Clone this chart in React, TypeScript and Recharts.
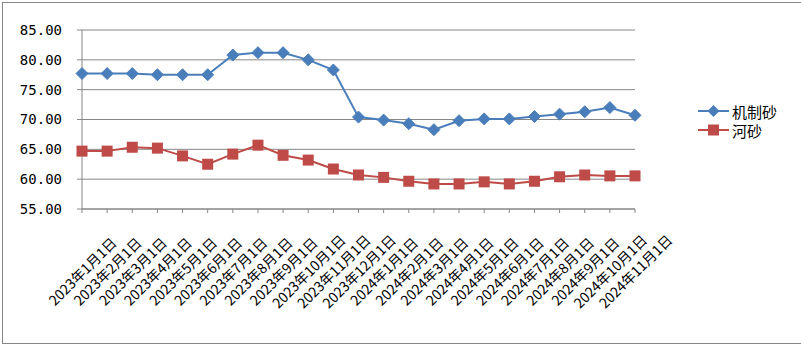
import React from 'react';
import { LineChart, Line, XAxis, YAxis, CartesianGrid } from 'recharts';

const categories = [
  '2023年1月1日', '2023年2月1日', '2023年3月1日', '2023年4月1日', '2023年5月1日', '2023年6月1日',
  '2023年7月1日', '2023年8月1日', '2023年9月1日', '2023年10月1日', '2023年11月1日', '2023年12月1日',
  '2024年1月1日', '2024年2月1日', '2024年3月1日', '2024年4月1日', '2024年5月1日', '2024年6月1日',
  '2024年7月1日', '2024年8月1日', '2024年9月1日', '2024年10月1日', '2024年11月1日',
];
const machineSand = [77.7, 77.7, 77.7, 77.5, 77.5, 77.5, 80.8, 81.2, 81.2, 80.0, 78.3, 70.4, 69.9, 69.3, 68.3, 69.8, 70.1, 70.1, 70.5, 70.9, 71.3, 72.0, 70.7];
const riverSand = [64.7, 64.7, 65.35, 65.2, 63.9, 62.5, 64.2, 65.7, 64.0, 63.2, 61.7, 60.7, 60.3, 59.65, 59.2, 59.2, 59.55, 59.2, 59.65, 60.4, 60.7, 60.55, 60.55];
const yTicks = [55, 60, 65, 70, 75, 80, 85];
const seriesNames = ['机制砂', '河砂'];

const data = categories.map((c, i) => ({ name: c, a: machineSand[i], b: riverSand[i] }));

const BLUE = '#4A7EBB';
const RED = '#BE4B48';
const GRAY = '#868686';

const Diamond = (props: any) => {
  const { cx, cy } = props;
  if (cx == null || cy == null) return null;
  const r = 6;
  return <path d={`M${cx},${cy - r} L${cx + r},${cy} L${cx},${cy + r} L${cx - r},${cy} Z`} fill={BLUE} stroke={BLUE} strokeWidth={1} />;
};
const Square = (props: any) => {
  const { cx, cy } = props;
  if (cx == null || cy == null) return null;
  const s = 11;
  return <rect x={cx - s / 2} y={cy - s / 2} width={s} height={s} fill={RED} />;
};

const XTick = (props: any) => {
  const { x, y, payload } = props;
  const cy = y + 56;
  return (
    <text
      x={x}
      y={cy}
      textAnchor="middle"
      dominantBaseline="central"
      transform={`rotate(-45, ${x}, ${cy})`}
      fontSize={14}
      fontFamily="'Noto Sans CJK SC', sans-serif"
      fill="#000"
    >
      {payload.value}
    </text>
  );
};

const LegendBox = () => (
  <svg width={96} height={55} style={{ position: 'absolute', left: 696, top: 93 }}>
    <line x1={2} y1={18} x2={33} y2={18} stroke={BLUE} strokeWidth={2} />
    <path d="M17.5,12 L23.5,18 L17.5,24 L11.5,18 Z" fill={BLUE} />
    <text x={36} y={18} dominantBaseline="central" fontSize={15} fontFamily="'Noto Sans CJK SC', sans-serif" fill="#000">{seriesNames[0]}</text>
    <line x1={2} y1={37} x2={33} y2={37} stroke={RED} strokeWidth={2} />
    <rect x={12} y={31.5} width={11} height={11} fill={RED} />
    <text x={36} y={37} dominantBaseline="central" fontSize={15} fontFamily="'Noto Sans CJK SC', sans-serif" fill="#000">{seriesNames[1]}</text>
  </svg>
);

export default function App() {
  return (
    <div style={{ position: 'absolute', left: 0, top: 0, width: 801, height: 360, background: '#fff', overflow: 'hidden' }}>
      <div style={{ position: 'absolute', left: 2, top: 2, width: 820, height: 342, border: `1px solid ${GRAY}`, boxSizing: 'border-box' }} />
      <div style={{ position: 'absolute', left: 0, top: 0 }}>
        <LineChart width={801} height={360} data={data} margin={{ top: 30, right: 166, bottom: 31, left: 0 }}>
          <CartesianGrid horizontal vertical={false} stroke={GRAY} strokeWidth={1} />
          <XAxis
            dataKey="name"
            interval={0}
            height={120}
            tick={<XTick />}
            tickSize={4}
            axisLine={{ stroke: GRAY }}
            tickLine={{ stroke: GRAY }}
          />
          <YAxis
            width={82}
            domain={[55, 85]}
            ticks={yTicks}
            tickFormatter={(v: number) => v.toFixed(2)}
            tickSize={5}
            tickMargin={15}
            axisLine={{ stroke: GRAY }}
            tickLine={{ stroke: GRAY }}
            tick={{ fontSize: 14, fill: '#000', fontFamily: "'DejaVu Sans Mono', monospace" }}
          />
          <Line type="linear" dataKey="a" name={seriesNames[0]} stroke={BLUE} strokeWidth={2} dot={<Diamond />} isAnimationActive={false} />
          <Line type="linear" dataKey="b" name={seriesNames[1]} stroke={RED} strokeWidth={2} dot={<Square />} isAnimationActive={false} />
        </LineChart>
      </div>
      <LegendBox />
    </div>
  );
}
